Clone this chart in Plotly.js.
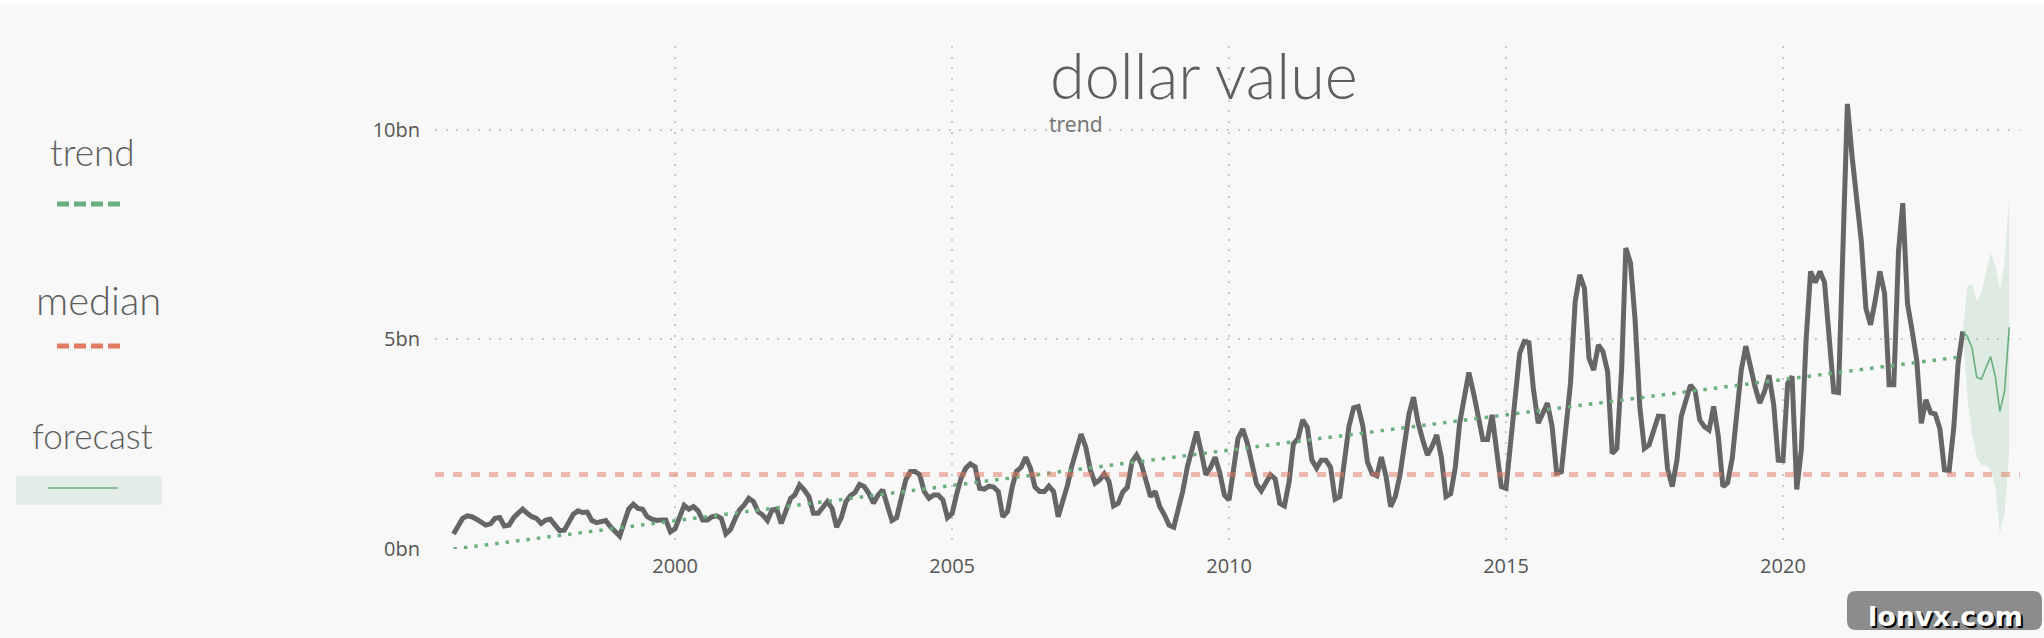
<!DOCTYPE html>
<html>
<head>
<meta charset="utf-8">
<script src="https://cdn.plot.ly/plotly-3.0.1.min.js"></script>
<style>
  html, body { margin: 0; padding: 0; background: #f8f8f8; }
  #chart { width: 2044px; height: 638px; }
</style>
</head>
<body>
<div id="chart"></div>
<script>
// ---------- data ----------
const seriesStart = '1996-01';           // first month of the monthly series
const dollarValue = [                    // bn USD, monthly Jan 1996 .. Apr 2023
  0.36,0.57,0.73,0.79,0.77,0.71,0.65,0.57,0.60,0.73,0.75,0.55,
  0.57,0.75,0.85,0.95,0.85,0.77,0.73,0.61,0.69,0.71,0.57,0.44,
  0.45,0.65,0.83,0.91,0.87,0.88,0.68,0.63,0.65,0.68,0.53,0.41,
  0.31,0.65,0.95,1.07,0.97,0.95,0.77,0.71,0.68,0.69,0.69,0.41,
  0.48,0.77,1.04,0.95,1.01,0.91,0.69,0.69,0.77,0.79,0.73,0.36,
  0.47,0.73,0.93,1.05,1.21,1.13,0.89,0.81,0.68,0.93,0.95,0.61,
  0.89,1.21,1.29,1.53,1.41,1.25,0.85,0.85,0.99,1.13,0.97,0.52,
  0.75,1.13,1.27,1.35,1.54,1.49,1.33,1.09,1.29,1.41,1.03,0.68,
  0.75,1.21,1.65,1.85,1.85,1.77,1.37,1.21,1.29,1.29,1.17,0.75,
  0.85,1.33,1.69,1.93,2.03,1.96,1.45,1.43,1.50,1.48,1.37,0.77,
  0.89,1.48,1.85,1.95,2.19,1.93,1.48,1.37,1.37,1.50,1.37,0.77,
  1.13,1.53,1.98,2.40,2.74,2.43,1.89,1.57,1.65,1.79,1.61,1.03,
  1.09,1.37,1.47,2.08,2.24,2.03,1.65,1.25,1.37,1.01,0.81,0.57,
  0.52,0.93,1.37,1.96,2.43,2.80,2.32,1.77,1.95,2.19,1.81,1.29,
  1.17,1.96,2.64,2.86,2.53,2.03,1.55,1.39,1.57,1.77,1.67,1.09,
  1.03,1.61,2.51,2.64,3.08,2.90,2.12,1.93,2.12,2.12,1.95,1.19,
  1.25,2.08,2.92,3.37,3.40,2.93,2.08,1.80,1.75,2.19,1.73,1.01,
  1.25,1.77,2.50,3.22,3.62,3.00,2.60,2.24,2.45,2.72,2.18,1.25,
  1.32,1.96,3.00,3.63,4.21,3.72,3.15,2.61,2.61,3.20,2.32,1.49,
  1.45,2.52,3.72,4.67,4.95,4.92,3.80,3.00,3.24,3.48,2.92,1.81,
  1.84,2.84,3.95,5.90,6.54,6.22,4.55,4.27,4.87,4.71,4.23,2.28,
  2.40,4.27,7.18,6.82,5.47,3.40,2.40,2.48,2.84,3.17,3.16,1.92,
  1.49,2.12,3.16,3.54,3.91,3.77,3.08,2.92,2.84,3.40,2.68,1.49,
  1.58,2.17,3.16,4.27,4.84,4.31,3.87,3.48,3.75,4.15,3.44,2.12,
  2.11,3.95,4.12,1.42,2.36,4.95,6.62,6.36,6.62,6.36,4.91,3.75,
  3.73,7.14,10.62,9.36,8.33,7.33,5.74,5.35,5.94,6.62,6.10,3.92,
  3.92,7.10,8.25,5.86,5.22,4.51,3.00,3.56,3.25,3.22,2.86,1.89,
  1.87,2.92,4.43,5.19
];
const forecastValue = [5.19,5.07,4.79,4.10,4.05,4.31,4.59,4.12,3.28,3.76,5.29];
const forecastUpper = [5.19,6.28,6.32,5.90,6.10,6.58,7.07,6.78,6.18,6.82,8.45];
const forecastLower = [5.19,3.60,2.77,2.20,2.00,2.00,1.90,1.49,0.37,0.85,2.30];
const trendEnds     = [0.0, 4.59];       // trend at first and last actual month
const medianValue   = 1.78;
const yTickVals  = [0, 5, 10];
const yTickText  = ['0bn', '5bn', '10bn'];
const xRange     = ['1995-09-01', '2024-04-12'];
const yRange     = [0, 12];

// ---------- helpers ----------
function monthDate(start, k) {
  const [y0, m0] = start.split('-').map(Number);
  const t = y0 * 12 + (m0 - 1) + k;
  const y = Math.floor(t / 12), m = t % 12 + 1;
  return y + '-' + String(m).padStart(2, '0') + '-01';
}
const dates = dollarValue.map((_, k) => monthDate(seriesStart, k));
const lastIdx = dollarValue.length - 1;
const fDates = forecastValue.map((_, k) => monthDate(seriesStart, lastIdx + k));

// layout geometry (pixels)
const W = 2044, H = 638;
const M = { l: 435, r: 24, t: 46, b: 89 };
const PW = W - M.l - M.r, PH = H - M.t - M.b;
const px = x => (x - M.l) / PW;
const py = y => (H - M.b - y) / PH;

const GREEN = '#6aaf7f';
const SALMON = '#e07b62';
const TXT = '#5e5e5e';
const DECO = 'Lato, "Open Sans", sans-serif';

// ---------- traces ----------
const traces = [
  { x: fDates, y: forecastLower, type: 'scatter', mode: 'lines',
    line: { width: 0, color: GREEN }, hoverinfo: 'skip', showlegend: false },
  { x: fDates, y: forecastUpper, type: 'scatter', mode: 'lines', fill: 'tonexty',
    fillcolor: 'rgba(106,176,127,0.18)', line: { width: 0, color: GREEN },
    hoverinfo: 'skip', showlegend: false },
  { x: dates, y: dollarValue, type: 'scatter', mode: 'lines', name: 'dollar value',
    line: { color: '#666666', width: 5 }, showlegend: false },
  { x: fDates, y: forecastValue, type: 'scatter', mode: 'lines', name: 'forecast',
    line: { color: GREEN, width: 1.6 }, showlegend: false },
  { x: [dates[0], dates[lastIdx]], y: trendEnds, type: 'scatter', mode: 'lines', name: 'trend',
    line: { color: GREEN, width: 3.5, dash: '3.5px,7px' }, showlegend: false }
];

// ---------- rounded watermark box ----------
function roundRect(x0, y0, x1, y1, r) {
  const P = (x, y) => px(x) + ',' + py(y);
  return 'M' + P(x0 + r, y0) + ' L' + P(x1 - r, y0) + ' Q' + P(x1, y0) + ' ' + P(x1, y0 + r) +
         ' L' + P(x1, y1 - r) + ' Q' + P(x1, y1) + ' ' + P(x1 - r, y1) +
         ' L' + P(x0 + r, y1) + ' Q' + P(x0, y1) + ' ' + P(x0, y1 - r) +
         ' L' + P(x0, y0 + r) + ' Q' + P(x0, y0) + ' ' + P(x0 + r, y0) + ' Z';
}

const shapes = [
  // faint top strip
  { type: 'rect', xref: 'paper', yref: 'paper', x0: px(0), x1: px(W), y0: py(0), y1: py(5),
    fillcolor: '#fdfdfd', line: { width: 0 }, layer: 'below' },
  // median line
  { type: 'line', xref: 'paper', yref: 'y', x0: 0, x1: 1, y0: medianValue, y1: medianValue,
    line: { color: SALMON, width: 5, dash: '9px,9px' }, opacity: 0.5, layer: 'above' },
  // legend: trend dashes
  { type: 'line', xref: 'paper', yref: 'paper', x0: px(57), x1: px(121), y0: py(204), y1: py(204),
    line: { color: GREEN, width: 5, dash: '12px,5px' } },
  // legend: median dashes
  { type: 'line', xref: 'paper', yref: 'paper', x0: px(57), x1: px(121), y0: py(346), y1: py(346),
    line: { color: SALMON, width: 5, dash: '12px,5px' } },
  // legend: forecast band + line
  { type: 'rect', xref: 'paper', yref: 'paper', x0: px(16), x1: px(162), y0: py(476), y1: py(505),
    fillcolor: '#e3ece6', line: { width: 0 } },
  { type: 'line', xref: 'paper', yref: 'paper', x0: px(48), x1: px(118), y0: py(488), y1: py(488),
    line: { color: GREEN, width: 1.5 } },
  // watermark box
  { type: 'path', xref: 'paper', yref: 'paper', path: roundRect(1847, 591, 2042, 630, 9),
    fillcolor: '#8c8c8c', line: { width: 0 } }
];

function label(text, cx, baseline, size, opts) {
  opts = opts || {};
  return Object.assign({
    text: text, xref: 'paper', yref: 'paper', x: px(cx), y: py(baseline - 0.33 * size),
    xanchor: 'center', yanchor: 'middle', showarrow: false,
    font: { family: DECO, size: size, color: TXT, weight: 300 }
  }, opts);
}

const annotations = [
  label('dollar value', 1048, 95, 63, { xanchor: 'left' }),
  label('trend', 1047, 130.5, 21, { xanchor: 'left',
    font: { family: '"Noto Sans", sans-serif', size: 21, color: '#777777' } }),
  label('trend', 92, 164, 37),
  label('median', 98.5, 313.5, 40),
  label('forecast', 92, 446.5, 35)
];
annotations.push(label('lonvx.com', 1945, 625, 27, {
    font: { family: '"DejaVu Sans", sans-serif', size: 27, color: '#ffffff', weight: 700,
            shadow: '2px 2px 0px #000000' } }));

const layout = {
  width: W, height: H,
  paper_bgcolor: '#f8f8f8', plot_bgcolor: '#f8f8f8',
  margin: M,
  showlegend: false,
  xaxis: {
    type: 'date', range: xRange, tick0: '2000-01-01', dtick: 'M60', tickformat: '%Y',
    showgrid: true, gridcolor: '#c9c9c9', gridwidth: 2, griddash: '2px,8.7px',
    zeroline: false, showline: false, ticks: '',
    tickfont: { family: '"Open Sans", sans-serif', size: 20, color: '#555555' },
    ticklabelstandoff: 3
  },
  yaxis: {
    range: yRange, tickvals: yTickVals, ticktext: yTickText,
    showgrid: true, gridcolor: '#c9c9c9', gridwidth: 2, griddash: '2px,8.7px',
    zeroline: false, showline: false, ticks: '',
    tickfont: { family: '"Open Sans", sans-serif', size: 20, color: '#555555' },
    ticklabelstandoff: 14
  },
  shapes: shapes,
  annotations: annotations
};

Plotly.newPlot('chart', traces, layout, { displayModeBar: false, staticPlot: true });
</script>
</body>
</html>
